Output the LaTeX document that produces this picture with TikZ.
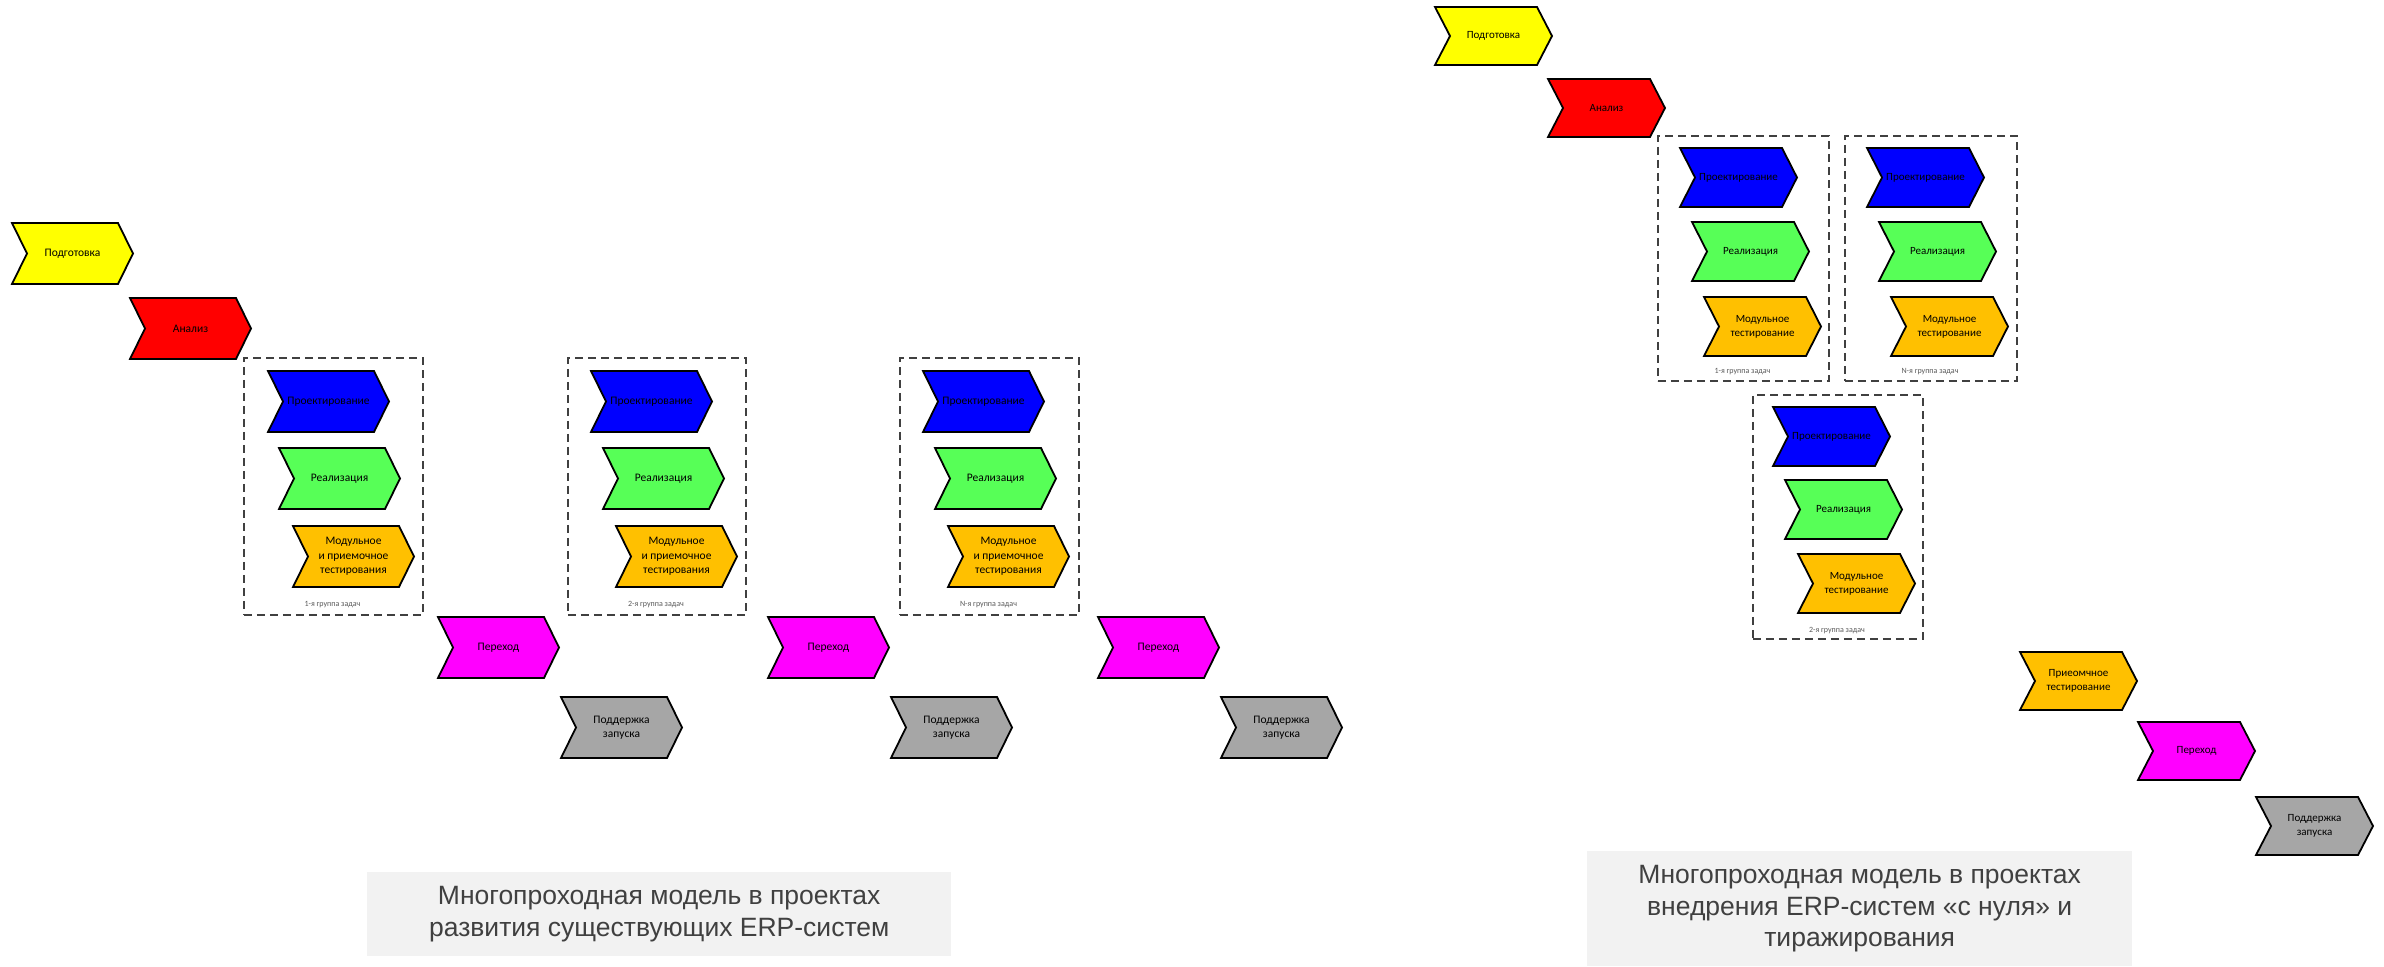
\documentclass[tikz,border=0pt]{standalone}
\usepackage{fontspec}
\setmainfont{Carlito}
\newfontfamily\capfont{Liberation Sans}
\definecolor{cyellow}{HTML}{FFFF00}
\definecolor{cred}{HTML}{FF0000}
\definecolor{cblue}{HTML}{0000FF}
\definecolor{cgreen}{HTML}{57FF57}
\definecolor{corange}{HTML}{FFC000}
\definecolor{cmagenta}{HTML}{FF00FF}
\definecolor{cgray}{HTML}{A6A6A6}
\definecolor{capgray}{HTML}{F2F2F2}
\definecolor{captxt}{HTML}{404040}
\tikzset{
  chevline/.style={draw=black, line width=1.8pt, line join=miter},
  chevtext/.style={align=center, inner sep=0pt, text=black, font=\fontsize{11.5}{14.5}\selectfont},
  grpbox/.style={draw=black!75, dash pattern=on 8pt off 5pt, line width=1.5pt, inner sep=0pt, anchor=north west},
  grplabel/.style={font=\fontsize{8}{9}\selectfont, text=black!65, inner sep=0pt},
  capbox/.style={fill=capgray, draw=none, anchor=north west, inner sep=0pt, align=center,
    text=captxt, font=\capfont\fontsize{26.5}{31.5}\selectfont},
}
\newcommand\chev[7]{%
  \draw[chevline, fill=#6] (#2,#3) -- ++(#4-15,0) -- ++(15,#5/2) -- ++(-15,#5/2)
    -- ++(-#4+15,0) -- ++(15,-#5/2) -- cycle;
  \node[chevtext] (#1) at (#2+#4/2,#3+#5/2) {#7};
}
\begin{document}
\begin{tikzpicture}[x=1pt,y=-1pt]
\useasboundingbox[fill=white] (0,0) rectangle (2384,966);

% ---------------- left diagram ----------------
\chev{prepL}{12}{223}{121}{61}{cyellow}{Подготовка}
\chev{analL}{130}{298}{121}{61}{cred}{Анализ}

\node[grpbox, minimum width=179pt, minimum height=257pt] (gL1) at (243,357) {};
\chev{projL1}{268}{371}{121}{61}{cblue}{Проектирование}
\chev{realL1}{279}{448}{121}{61}{cgreen}{Реализация}
\chev{modL1}{293}{526}{121}{61}{corange}{Модульное\\и приемочное\\тестирования}
\node[grplabel] (gL1l) at (332.5,605) {1-я группа задач};

\node[grpbox, minimum width=178pt, minimum height=257pt] (gL2) at (567,357) {};
\chev{projL2}{591}{371}{121}{61}{cblue}{Проектирование}
\chev{realL2}{603}{448}{121}{61}{cgreen}{Реализация}
\chev{modL2}{616}{526}{121}{61}{corange}{Модульное\\и приемочное\\тестирования}
\node[grplabel] (gL2l) at (656,605) {2-я группа задач};

\node[grpbox, minimum width=179pt, minimum height=257pt] (gLN) at (899,357) {};
\chev{projLN}{923}{371}{121}{61}{cblue}{Проектирование}
\chev{realLN}{935}{448}{121}{61}{cgreen}{Реализация}
\chev{modLN}{948}{526}{121}{61}{corange}{Модульное\\и приемочное\\тестирования}
\node[grplabel] (gLNl) at (988.5,605) {N-я группа задач};

\chev{pereL1}{438}{617}{121}{61}{cmagenta}{Переход}
\chev{poddL1}{561}{697}{121}{61}{cgray}{Поддержка\\запуска}
\chev{pereL2}{768}{617}{121}{61}{cmagenta}{Переход}
\chev{poddL2}{891}{697}{121}{61}{cgray}{Поддержка\\запуска}
\chev{pereL3}{1098}{617}{121}{61}{cmagenta}{Переход}
\chev{poddL3}{1221}{697}{121}{61}{cgray}{Поддержка\\запуска}

\node[capbox, minimum width=584pt, minimum height=84pt] (capL) at (367,872)
  {Многопроходная модель в проектах\\развития существующих ERP-систем};

% ---------------- right diagram ----------------
\begin{scope}[chevtext/.append style={font=\fontsize{11}{14}\selectfont}]
\chev{prepR}{1435}{7}{117}{58}{cyellow}{Подготовка}
\chev{analR}{1548}{79}{117}{58}{cred}{Анализ}

\node[grpbox, minimum width=171pt, minimum height=245pt] (gR1) at (1657,135) {};
\chev{projR1}{1680}{148}{117}{59}{cblue}{Проектирование}
\chev{realR1}{1692}{222}{117}{59}{cgreen}{Реализация}
\chev{modR1}{1704}{297}{117}{59}{corange}{Модульное\\тестирование}
\node[grplabel] (gR1l) at (1742.5,372) {1-я группа задач};

\node[grpbox, minimum width=172pt, minimum height=245pt] (gRN) at (1844,135) {};
\chev{projRN}{1867}{148}{117}{59}{cblue}{Проектирование}
\chev{realRN}{1879}{222}{117}{59}{cgreen}{Реализация}
\chev{modRN}{1891}{297}{117}{59}{corange}{Модульное\\тестирование}
\node[grplabel] (gRNl) at (1930,372) {N-я группа задач};

\node[grpbox, minimum width=170pt, minimum height=244pt] (gR2) at (1752,394) {};
\chev{projR2}{1773}{407}{117}{59}{cblue}{Проектирование}
\chev{realR2}{1785}{480}{117}{59}{cgreen}{Реализация}
\chev{modR2}{1798}{554}{117}{59}{corange}{Модульное\\тестирование}
\node[grplabel] (gR2l) at (1837,631) {2-я группа задач};

\chev{accR}{2020}{652}{117}{58}{corange}{Приеомчное\\тестирование}
\chev{pereR}{2138}{722}{117}{58}{cmagenta}{Переход}
\chev{poddR}{2256}{797}{117}{58}{cgray}{Поддержка\\запуска}
\end{scope}

\node[capbox, minimum width=545pt, minimum height=115pt] (capR) at (1587,851)
  {Многопроходная модель в проектах\\внедрения ERP-систем «с нуля» и\\тиражирования};
\end{tikzpicture}
\end{document}
